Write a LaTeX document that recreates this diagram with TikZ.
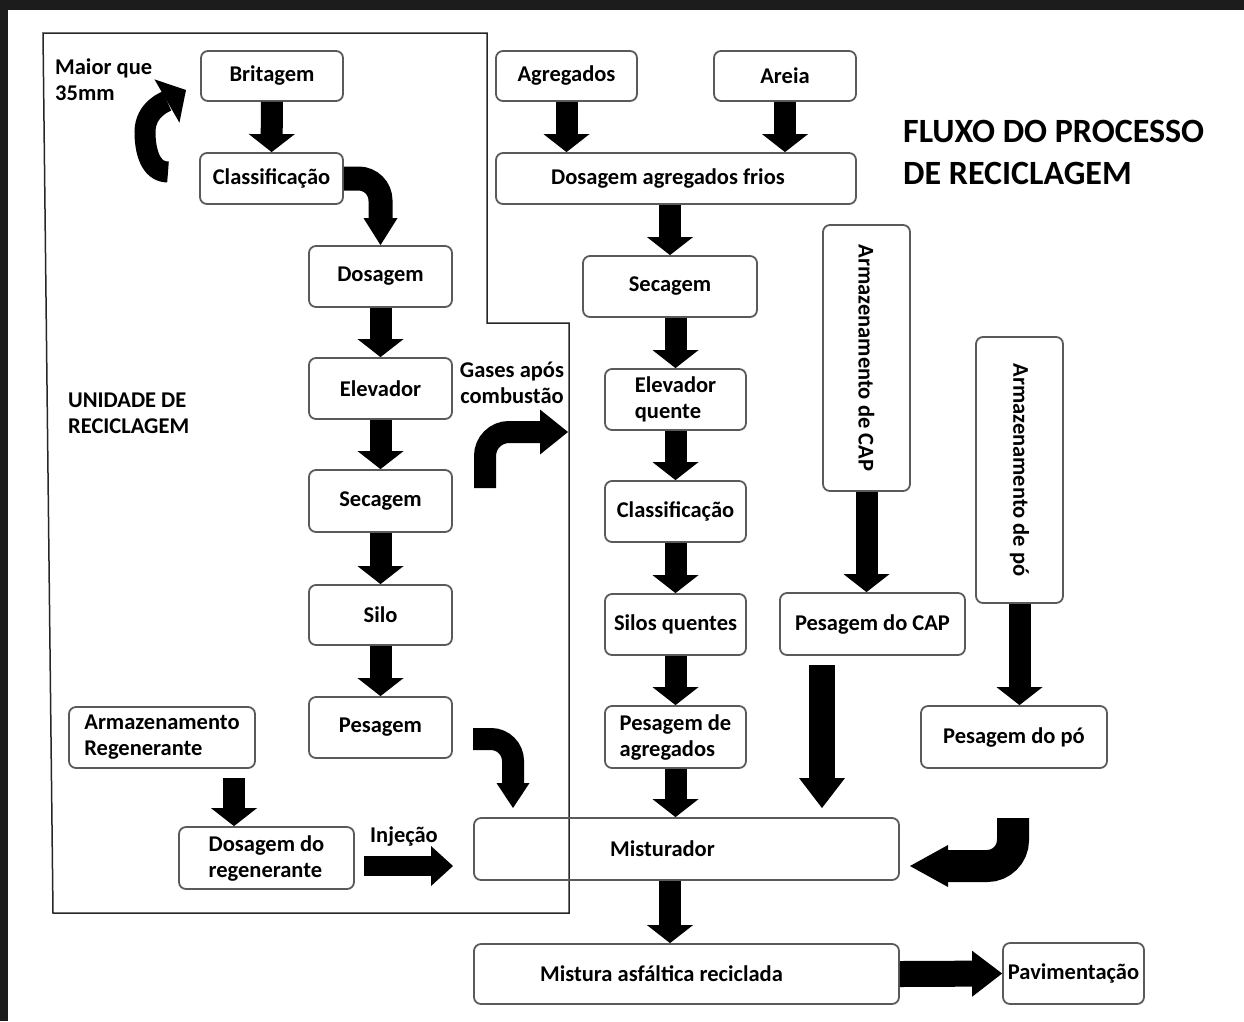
\documentclass[tikz,border=0pt]{standalone}
\usepackage{fontspec}
\setmainfont{Carlito}
\usepackage{graphicx}
\usetikzlibrary{arrows.meta}
\definecolor{boxline}{HTML}{5A5A5A}
\definecolor{frame}{HTML}{1C1C1C}
\tikzset{
  box/.style={draw=boxline, line width=1.8pt, rounded corners=7pt, align=center, inner sep=2pt,
    font=\bfseries\fontsize{22.5}{26}\selectfont},
  lbl/.style={align=left, inner sep=0pt, font=\bfseries\fontsize{22.5}{26}\selectfont},
  flow/.style={line width=22pt, -{Triangle[length=18pt,width=46pt,line width=0pt]}},
}

\begin{document}
\begin{tikzpicture}[x=1pt,y=1pt]
	\useasboundingbox (0,0) rectangle (1244,-1021);
	\fill[frame] (0,0) rectangle (1244,-10);
	\fill[frame] (0,0) rectangle (8,-1021);
	% unidade de reciclagem
	\draw[line width=1.5pt, black!85] (43,-33) -- (487,-33) -- (487,-323) -- (569,-323)
	   -- (569,-913) -- (53,-913) -- cycle;

	\node[box, minimum width=142pt, minimum height=50pt] (brit) at (272,-76) {Britagem};
	\node[box, minimum width=143pt, minimum height=51pt] (classL) at (271.5,-178.5) {Classificação};
	\node[box, minimum width=143pt, minimum height=61pt] (dos) at (380.5,-276.5) {Dosagem};
	\node[box, minimum width=143pt, minimum height=61pt] (elev) at (380.5,-388.5) {Elevador};
	\node[box, minimum width=143pt, minimum height=62pt] (secL) at (380.5,-501) {Secagem};
	\node[box, minimum width=143pt, minimum height=60pt] (silo) at (380.5,-615) {Silo};
	\node[box, minimum width=143pt, minimum height=61pt] (pes) at (380.5,-727.5) {Pesagem};
	\node[box, align=left, minimum width=186pt, minimum height=61pt] (armreg) at (162,-737.5) {Armazenamento\\Regenerante};
	\node[box, align=left, minimum width=175pt, minimum height=62pt] (dosreg) at (266.5,-858) {Dosagem do\\regenerante};

	\node[box, minimum width=141pt, minimum height=50pt] (agr) at (566.5,-76) {Agregados};
	\node[box, minimum width=142pt, minimum height=50pt] (areia) at (785,-76) {Areia};
	\node[box, minimum width=360pt, minimum height=51pt] (dosfrio) at (676,-178.5) {Dosagem agregados frios\hspace*{16pt}};
	\node[box, minimum width=174pt, minimum height=61pt] (secR) at (670,-286.5) {Secagem};
	\node[box, align=left, minimum width=141pt, minimum height=61pt] (elevq) at (675.5,-399.5) {Elevador\\quente};
	\node[box, minimum width=141pt, minimum height=61pt] (classR) at (675.5,-511.5) {Classificação};
	\node[box, minimum width=141pt, minimum height=61pt] (silosq) at (675.5,-624.5) {Silos quentes};
	\node[box, align=left, minimum width=141pt, minimum height=62pt] (pesagr) at (675.5,-737) {Pesagem de\\agregados};
	\node[box, minimum width=425pt, minimum height=62pt] (mist) at (686.5,-849) {Misturador\hspace*{48pt}};
	\node[box, minimum width=425pt, minimum height=60pt] (mistura) at (686.5,-974) {Mistura asfáltica reciclada\hspace*{50pt}};
	\node[box, minimum width=141pt, minimum height=61pt] (pav) at (1073.5,-973.5) {Pavimentação};

	\node[box, minimum width=87pt, minimum height=266pt] (armcap) at (866.5,-358) {\rotatebox{-90}{Armazenamento de CAP}};
	\node[box, minimum width=185pt, minimum height=62pt] (pcap) at (872.5,-624) {Pesagem do CAP};
	\node[box, minimum width=87pt, minimum height=266pt] (armpo) at (1019.5,-470) {\rotatebox{-90}{Armazenamento de pó}};
	\node[box, minimum width=186pt, minimum height=62pt] (ppo) at (1014,-737) {Pesagem do pó};

	\node[lbl, anchor=west] (maior) at (55,-80) {Maior que\\35mm};
	\node[lbl, anchor=west] (unidade) at (68,-413) {UNIDADE DE\\RECICLAGEM};
	\node[lbl, align=center] (gases) at (512,-383) {Gases após\\combustão};
	\node[lbl] (injecao) at (404,-836) {Injeção};
	\node[lbl, anchor=west, font=\bfseries\fontsize{34}{42}\selectfont] (titulo) at (903,-152) {FLUXO DO PROCESSO\\DE RECICLAGEM};

	\coordinate (laco) at (168,-172);
	\coordinate (lacotip) at (186,-90);
	\coordinate (gasbase) at (485,-488);
	\coordinate (gastip) at (568,-432);
	\coordinate (pesout) at (473,-739);
	\coordinate (pestip) at (513,-808);
	\coordinate (potop) at (1013,-818);
	\coordinate (potip) at (910,-866);
	\coordinate (capout) at (822,-665);
	\coordinate (capin) at (822,-808);
	\coordinate (regout) at (234,-778);
	\coordinate (injout) at (364,-866);
	\coordinate (injin) at (453,-866);

	\path[flow]
	(brit) edge (classL)
	(dos) edge (elev)
	(elev) edge (secL)
	(secL) edge (silo)
	(silo) edge (pes)
	(agr.south) edge (agr.south |- dosfrio.north)
	(areia.south) edge (areia.south |- dosfrio.north)
	(secR.north |- dosfrio.south) edge (secR.north)
	(elevq.north |- secR.south) edge (elevq.north)
	(elevq) edge (classR)
	(classR) edge (silosq)
	(silosq) edge (pesagr)
	(pesagr.south) edge (pesagr.south |- mist.north)
	(secR.south |- mist.south) edge (secR.south |- mistura.north)
	(armcap.south) edge (armcap.south |- pcap.north)
	(armpo.south) edge (armpo.south |- ppo.north)
	(regout) edge (regout |- dosreg.north);
	\path[flow, line width=26pt, -{Triangle[length=30pt,width=46pt,line width=0pt]}]
	(capout) edge (capin)
	(mistura.east) edge (pav.west);
	\draw[flow, line width=20pt, -{Triangle[length=22pt,width=40pt,line width=0pt]}] (injout) -- (injin);

	% curvas
	\draw[flow, line width=21pt, -{Triangle[length=22pt,width=50pt,line width=0pt]}]
	  (laco) to[out=180,in=-90] (145,-132) to[out=90,in=210] (lacotip);
	\draw[flow, line width=24pt, rounded corners=22pt, -{Triangle[length=27pt,width=34pt,line width=0pt]}]
	  (classL.east) -| (dos.north);
	\draw[flow, line width=22pt, rounded corners=24pt, -{Triangle[length=28pt,width=45pt,line width=0pt]}]
	  (gasbase) |- (gastip);
	\draw[flow, line width=22pt, rounded corners=22pt, -{Triangle[length=25pt,width=33pt,line width=0pt]}]
	  (pesout) -| (pestip);
	\draw[flow, line width=32pt, rounded corners=26pt, -{Triangle[length=38pt,width=42pt,line width=0pt]}]
	  (potop) |- (potip);
\end{tikzpicture}
\end{document}
